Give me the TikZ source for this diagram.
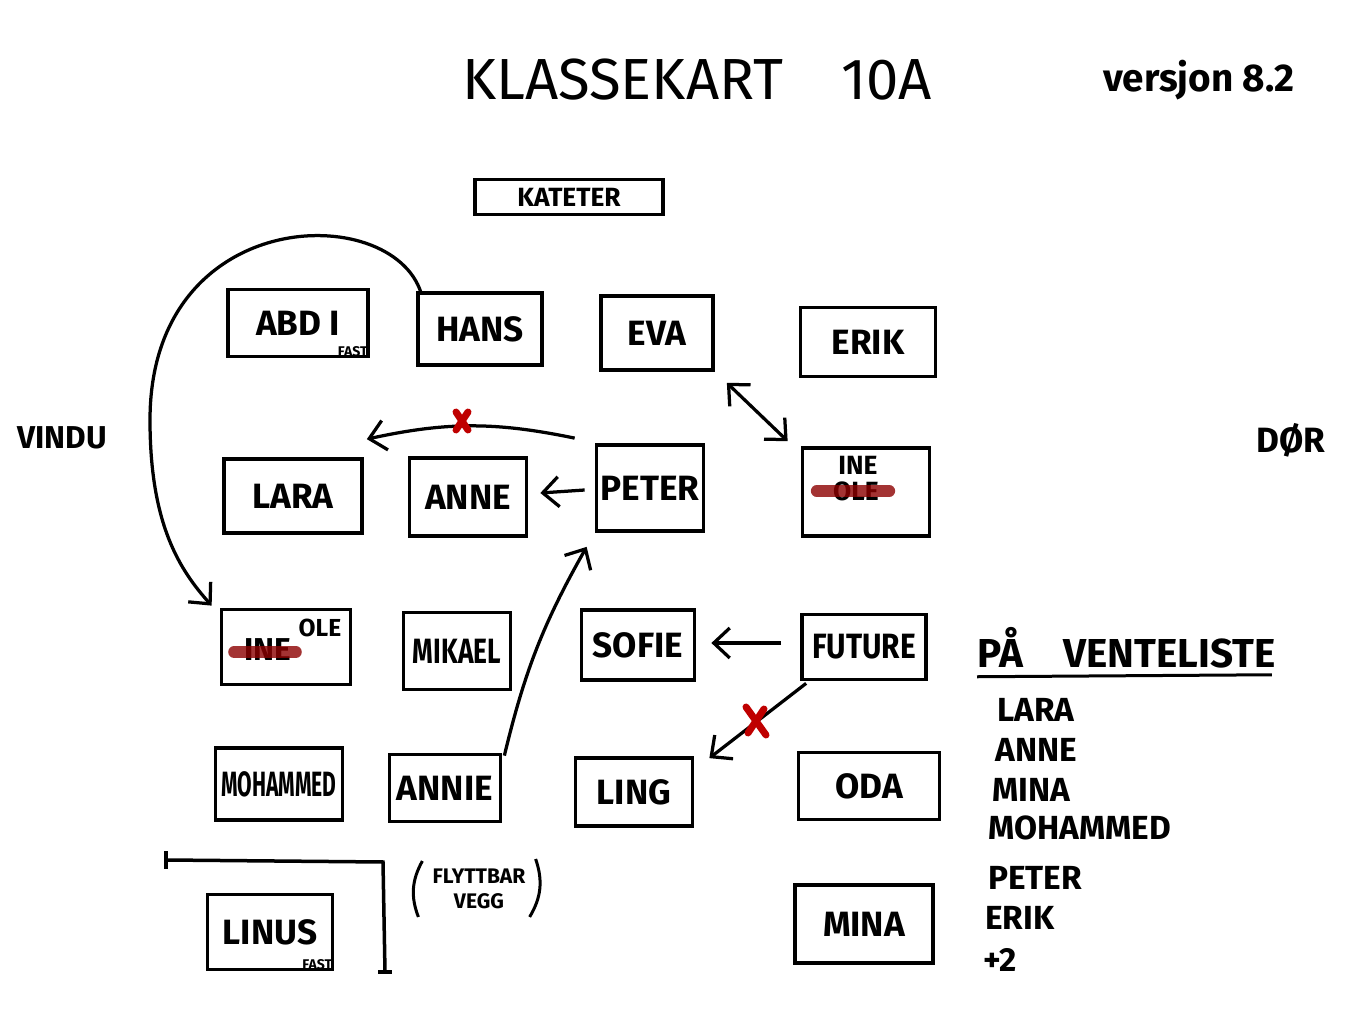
\documentclass[tikz,border=0pt]{standalone}
\usepackage{fontspec}
\setmainfont{Fira Sans}
\usetikzlibrary{calc}
\usetikzlibrary{positioning}
\usetikzlibrary{arrows.meta}

\begin{document}
\begin{tikzpicture}[x=0.02cm,y=-0.02cm]
\tikzstyle{seat}=[rectangle,align=center,draw,line width=0.075cm,inner sep=0pt,font=\fontsize{20}{22}\selectfont\bfseries]
\tikzstyle{pil}=[line width=0.065cm,-{Straight Barb[length=0.32cm,width=0.6cm]}]
\tikzstyle{kryss}=[line width=0.14cm,red!75!black,line cap=round]
\tikzstyle{strek}=[line width=0.24cm,red!55!black,opacity=0.8,line cap=round]
\tikzstyle{liste}=[anchor=west,inner sep=0pt,font=\fontsize{19}{21}\selectfont\bfseries]
\tikzstyle{merke}=[inner sep=1pt,font=\fontsize{8}{9}\selectfont\bfseries]
\useasboundingbox (0,0) rectangle (1360,1020);

\node[font=\fontsize{33}{36}\selectfont] at(697, 80) (tittel) {KLASSEKART\quad 10A};
\node[font=\fontsize{22}{24}\selectfont\bfseries] at(1199, 80) (versjon) {versjon 8.2};
\node[font=\fontsize{18}{20}\selectfont\bfseries] at(62, 438) (vindu) {VINDU};
\node[font=\fontsize{20}{22}\selectfont\bfseries] at(1291, 440) (dor) {DØR};

\node[seat,minimum width=3.76cm,minimum height=0.7cm,font=\fontsize{15}{17}\selectfont\bfseries] at(569, 197) (kateter) {KATETER};

\node[seat,minimum width=2.8cm,minimum height=1.34cm] at(298, 323) (abdi) {ABD I};
\node[merke,anchor=south east] at(abdi.south east) (abdi-fast) {FAST};
\node[seat,minimum width=2.48cm,minimum height=1.44cm] at(480, 329) (hans) {HANS};
\node[seat,minimum width=2.24cm,minimum height=1.48cm] at(657, 333) (eva) {EVA};
\node[seat,minimum width=2.7cm,minimum height=1.38cm] at(868, 342) (erik) {ERIK};

\node[seat,minimum width=2.76cm,minimum height=1.48cm] at(293, 496) (lara) {LARA};
\node[seat,minimum width=2.34cm,minimum height=1.56cm] at(468, 497) (anne) {ANNE};
\node[seat,minimum width=2.14cm,minimum height=1.72cm] at(650, 488) (peter) {PETER};
\node[seat,minimum width=2.54cm,minimum height=1.76cm] at(866, 492) (ine) {};
\node[inner sep=0pt,font=\fontsize{15}{17}\selectfont\bfseries] at(858, 465) (ine-ny) {INE};
\node[inner sep=0pt,font=\fontsize{15}{17}\selectfont\bfseries] at(856, 491) (ine-gml) {OLE};
\draw[strek] ($(ine-gml.west)+(-16,0)$) -- ($(ine-gml.east)+(10,0)$);

\node[seat,minimum width=2.58cm,minimum height=1.5cm] at(286, 647) (ole) {};
\node[inner sep=0pt,font=\fontsize{18}{20}\selectfont\bfseries] at(268, 650) (ole-gml) {INE};
\draw[strek] ($(ole-gml.west)+(-10,2)$) -- ($(ole-gml.east)+(4,2)$);
\node[font=\fontsize{14}{16}\selectfont\bfseries] at(320, 628) (ole-ny) {OLE};
\node[seat,minimum width=2.14cm,minimum height=1.54cm] at(457, 651) (mikael) {\scalebox{0.75}[1]{MIKAEL}};
\node[seat,minimum width=2.26cm,minimum height=1.4cm] at(638, 645) (sofie) {SOFIE};
\node[seat,minimum width=2.48cm,minimum height=1.3cm] at(864, 647) (future) {\scalebox{0.85}[1]{FUTURE}};

\node[seat,minimum width=2.54cm,minimum height=1.44cm] at(279, 784) (mohammed) {\scalebox{0.6}[1]{MOHAMMED}};
\node[seat,minimum width=2.22cm,minimum height=1.34cm] at(445, 788) (annie) {ANNIE};
\node[seat,minimum width=2.34cm,minimum height=1.36cm] at(634, 792) (ling) {LING};
\node[seat,minimum width=2.82cm,minimum height=1.34cm] at(869, 786) (oda) {ODA};

\node[seat,minimum width=2.5cm,minimum height=1.5cm] at(270, 932) (linus) {LINUS};
\node[merke,anchor=south east] at(linus.south east) (linus-fast) {FAST};
\node[seat,minimum width=2.76cm,minimum height=1.56cm] at(864, 924) (mina) {MINA};

\coordinate (vegg-a) at (166, 860);
\coordinate (vegg-b) at (383, 862);
\coordinate (vegg-c) at (385, 972);
\draw[line width=0.07cm] (vegg-a) -- (vegg-b) -- (vegg-c);
\draw[line width=0.07cm] ($(vegg-a)+(0,-9)$) -- ($(vegg-a)+(0,9)$);
\draw[line width=0.07cm] ($(vegg-c)+(-7,0)$) -- ($(vegg-c)+(7,0)$);
\node[align=center,font=\fontsize{12}{14}\selectfont\bfseries] at(479, 889) (vegg) {FLYTTBAR\\VEGG};
\draw[line width=0.06cm] ($(vegg.north west)+(-4,-2)$) to[bend right=25] ($(vegg.south west)+(-8,2)$);
\draw[line width=0.06cm] ($(vegg.north east)+(4,-4)$) to[bend left=25] ($(vegg.south east)+(-2,2)$);

\node[liste,font=\fontsize{23}{25}\selectfont\bfseries] at(977, 648) (venteliste) {PÅ\quad VENTELISTE};
\draw[line width=0.06cm] ($(venteliste.south west)+(0,8)$) -- ($(venteliste.south east)+(-4,6)$);
\node[liste] at(997, 710) (v-lara) {LARA};
\node[liste] at(995, 750) (v-anne) {ANNE};
\node[liste] at(992, 790) (v-mina) {MINA};
\node[liste] at(988, 828) (v-mohammed) {MOHAMMED};
\node[liste] at(988, 878) (v-peter) {PETER};
\node[liste] at(985, 918) (v-erik) {ERIK};
\node[liste] at(983, 960) (v-pluss) {+2};

\draw[pil] ($(hans.north west)+(5,2)$) .. controls (392,200) and (150,205) .. (150,420) .. controls (150,525) and (180,570) .. ($(ole.north west)+(-8,-2)$);
\draw[pil] ($(peter.north west)+(-20,-5)$) to[bend right=12] ($(lara.north east)+(3,-18)$);
\draw[pil] ($(peter.west)+(-10,2)$) -- ($(anne.east)+(12,-4)$);
\draw[pil,{Straight Barb[length=0.32cm,width=0.6cm]}-{Straight Barb[length=0.32cm,width=0.6cm]}] ($(eva.south east)+(12,11)$) -- ($(ine.north west)+(-13,-5)$);
\draw[pil] ($(annie.north east)+(2,3)$) to[bend left=8] ($(peter.south west)+(-8,14)$);
\draw[pil] ($(future.west)+(-19,-4)$) -- ($(sofie.east)+(15,-2)$);
\draw[pil] ($(future.south west)+(6,2)$) -- ($(ling.north east)+(15,2)$);

\coordinate (kryss-a) at (462, 421);
\draw[kryss] ($(kryss-a)+(-6,-9)$) -- ($(kryss-a)+(6,9)$);
\draw[kryss] ($(kryss-a)+(6,-9)$) -- ($(kryss-a)+(-6,9)$);
\coordinate (kryss-b) at (756, 721);
\draw[kryss] ($(kryss-b)+(-10,-14)$) -- ($(kryss-b)+(10,14)$);
\draw[kryss] ($(kryss-b)+(8,-12)$) -- ($(kryss-b)+(-8,12)$);
\end{tikzpicture}
\end{document}
